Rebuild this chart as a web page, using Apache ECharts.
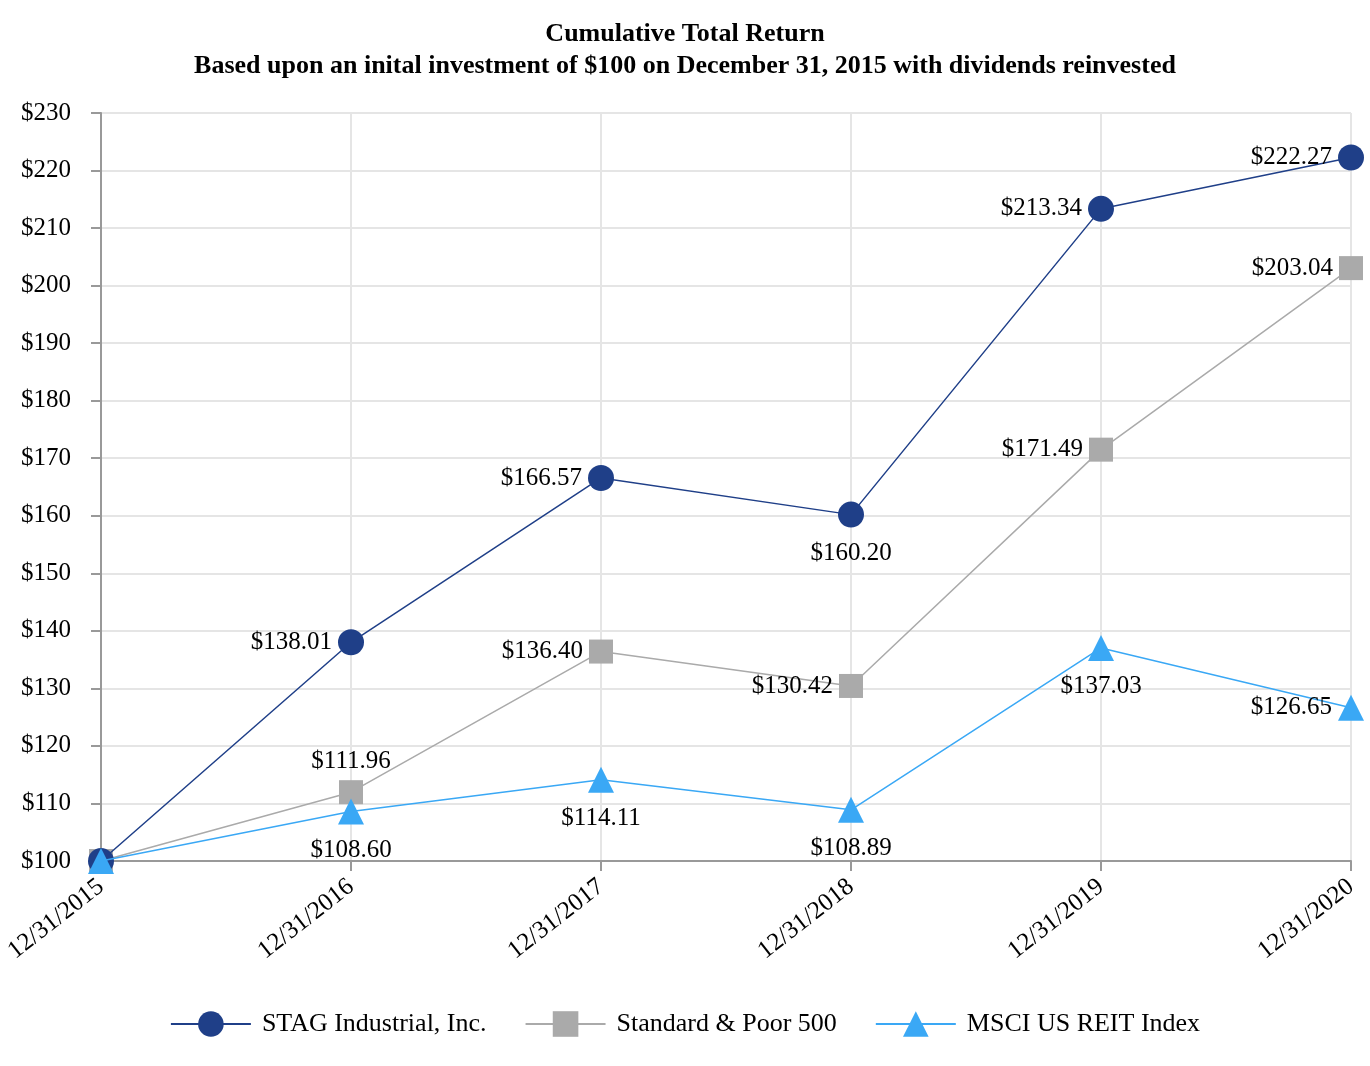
<!DOCTYPE html>
<html><head><meta charset="utf-8">
<script src="https://cdn.jsdelivr.net/npm/echarts@6/dist/echarts.min.js"></script>
<style>html,body{margin:0;padding:0;background:#fff}#c{width:1370px;height:1066px}</style>
</head><body><div id="c"></div>
<script>
var categories = ['12/31/2015','12/31/2016','12/31/2017','12/31/2018','12/31/2019','12/31/2020'];
var stag = [100, 138.01, 166.57, 160.20, 213.34, 222.27];
var sp500 = [100, 111.96, 136.40, 130.42, 171.49, 203.04];
var msci = [100, 108.60, 114.11, 108.89, 137.03, 126.65];
var stagPos = [null,'left','left','bottom','left','left'];
var spPos = [null,'top','left','left','left','left'];
var msciPos = [null,'bottom','bottom','bottom','bottom','left'];

var F = 'Liberation Serif, Times New Roman, serif';
function mk(vals, pos){
  return vals.map(function(v,i){
    var d = {value:v};
    if(pos[i]===null){ d.label={show:false}; }
    else {
      var dist = pos[i]==='left' ? 6 : (pos[i]==='top' ? 6 : 13);
      d.label={show:true, position:pos[i], distance:dist};
    }
    return d;
  });
}
var chart = echarts.init(document.getElementById('c'));
var labelBase = {color:'#000', fontFamily:F, fontSize:25, formatter:function(p){return '$'+p.value.toFixed(2);}};
chart.setOption({
  animation:false,
  title:{text:'Cumulative Total Return\nBased upon an inital investment of $100 on December 31, 2015 with dividends reinvested',
    left:'center', top:13, textStyle:{fontFamily:F, fontSize:26, fontWeight:'bold', color:'#000', lineHeight:32}},
  grid:{left:101, right:19, top:113, bottom:205},
  legend:{top:1006, left:'center', itemWidth:80, itemHeight:32, itemGap:38,
    textStyle:{fontFamily:F, fontSize:26, color:'#000', padding:[0,0,0,6]}},
  xAxis:{type:'category', data:categories, boundaryGap:false,
    axisLine:{lineStyle:{color:'#999', width:2}},
    axisTick:{show:true, length:10, lineStyle:{color:'#999', width:2}},
    axisLabel:{rotate:38, fontFamily:F, fontSize:25, color:'#000', margin:23},
    splitLine:{show:true, lineStyle:{color:'#e5e5e5', width:2}}},
  yAxis:{type:'value', min:100, max:230, interval:10,
    axisLine:{show:true, lineStyle:{color:'#999', width:2}},
    axisTick:{show:true, length:10, lineStyle:{color:'#999', width:2}},
    axisLabel:{fontFamily:F, fontSize:25, color:'#000', margin:30, formatter:function(v){return '$'+v;}},
    splitLine:{show:true, lineStyle:{color:'#e5e5e5', width:2}}},
  series:[
    {name:'STAG Industrial, Inc.', type:'line', data:mk(stag,stagPos), symbol:'circle', symbolSize:26,
      color:'#1f3f88', lineStyle:{width:1.5, color:'#1f3f88'}, itemStyle:{color:'#1f3f88'}, label:labelBase, z:4},
    {name:'Standard & Poor 500', type:'line', data:mk(sp500,spPos), symbol:'rect', symbolSize:24,
      color:'#aaaaaa', lineStyle:{width:1.5, color:'#aaaaaa'}, itemStyle:{color:'#aaaaaa'}, label:labelBase, z:3},
    {name:'MSCI US REIT Index', type:'line', data:mk(msci,msciPos), symbol:'triangle', symbolSize:26,
      color:'#3aa8f5', lineStyle:{width:1.5, color:'#3aa8f5'}, itemStyle:{color:'#3aa8f5'}, label:labelBase, z:5}
  ]
});
</script></body></html>
